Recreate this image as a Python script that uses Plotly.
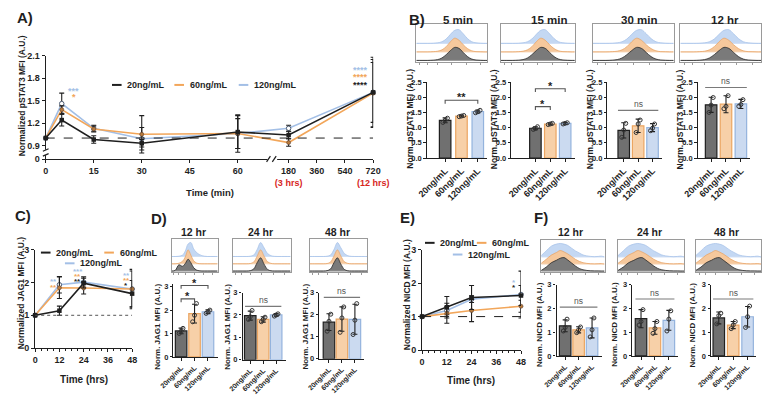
import plotly.graph_objects as go

W, H = 778, 396
FONT = "Liberation Sans, Arial, Helvetica, sans-serif"
INK = "#1f1f1f"
RED = "#d7261e"

conc = ["20ng/mL", "60ng/mL", "120ng/mL"]
line_color = {"20ng/mL": "#1f1f1f", "60ng/mL": "#f2a65a", "120ng/mL": "#a3bfe6"}
bar_fill = {"20ng/mL": "#707070", "60ng/mL": "#f7d0a8", "120ng/mL": "#cbdaf0"}
bar_edge = {"20ng/mL": "#1f1f1f", "60ng/mL": "#eba561", "120ng/mL": "#94b3dd"}
hist_fill = {"20ng/mL": "#7a7a7a", "60ng/mL": "#f6c89c", "120ng/mL": "#c4d8f3"}
hist_edge = {"20ng/mL": "#2a2a2a", "60ng/mL": "#e9a66a", "120ng/mL": "#a9c4ea"}
hist_base = {"20ng/mL": "#9a9a9a", "60ng/mL": "#f6d3b2", "120ng/mL": "#cfdff5"}

# ---------------- Panel A: pSTAT3 time course ----------------
A_time = [0, 5, 15, 30, 60, 180, 720]
A_mean_20 = [1.00, 1.24, 0.98, 0.93, 1.08, 1.04, 1.61]
A_mean_60 = [1.00, 1.38, 1.12, 1.05, 1.06, 0.94, 1.60]
A_mean_120 = [1.00, 1.46, 1.13, 0.99, 1.06, 1.13, 1.61]
A_sd_20 = [0.00, 0.08, 0.05, 0.05, 0.22, 0.05, 0.47]
A_sd_60 = [0.00, 0.05, 0.04, 0.25, 0.20, 0.05, 0.45]
A_sd_120 = [0.00, 0.14, 0.04, 0.15, 0.25, 0.04, 0.40]
A_xticks = [0, 15, 30, 45, 60, 180, 360, 540, 720]
A_xnotes = {180: "(3 hrs)", 720: "(12 hrs)"}
A_yticks = [0.9, 1.2, 1.5, 1.8, 2.1]
A_stars = [(5, "120ng/mL", "***", 1.66), (5, "60ng/mL", "*", 1.57),
           (720, "120ng/mL", "****", 1.94), (720, "60ng/mL", "****", 1.84),
           (720, "20ng/mL", "****", 1.735)]

# ---------------- Panel B: pSTAT3 bars ----------------
B_times = ["5 min", "15 min", "30 min", "12 hr"]
B_mean_5min = [1.24, 1.38, 1.53]
B_mean_15min = [0.98, 1.12, 1.14]
B_mean_30min = [0.91, 1.06, 1.00]
B_mean_12hr = [1.75, 1.77, 1.78]
B_sd_5min = [0.08, 0.03, 0.05]
B_sd_15min = [0.05, 0.03, 0.03]
B_sd_30min = [0.25, 0.22, 0.13]
B_sd_12hr = [0.25, 0.28, 0.15]
B_pts_5min = [[1.17, 1.24, 1.31], [1.36, 1.38, 1.40], [1.49, 1.52, 1.57]]
B_pts_15min = [[0.94, 0.97, 1.03], [1.10, 1.12, 1.14], [1.12, 1.14, 1.16]]
B_pts_30min = [[0.68, 0.92, 1.14], [0.84, 1.12, 1.25], [0.90, 0.98, 1.12]]
B_pts_12hr = [[1.50, 1.74, 1.99], [1.62, 1.70, 2.05], [1.70, 1.76, 1.92]]
B_sig_5min = [(0, 2, 1.90, "**")]
B_sig_15min = [(0, 1, 1.69, "*"), (0, 2, 2.28, "*")]
B_sig_30min = [(0, 2, 1.57, "ns")]
B_sig_12hr = [(0, 2, 2.32, "ns")]

# ---------------- Panel C: JAG1 time course ----------------
C_time = [0, 12, 24, 48]
C_mean_20 = [1.00, 1.14, 1.98, 1.66]
C_mean_60 = [1.00, 1.84, 1.83, 1.80]
C_mean_120 = [1.00, 1.93, 2.01, 1.80]
C_sd_20 = [0.00, 0.14, 0.15, 0.40]
C_sd_60 = [0.00, 0.33, 0.18, 0.55]
C_sd_120 = [0.00, 0.25, 0.16, 0.60]
C_stars = [(12, "120ng/mL", "**", 2.08), (12, "60ng/mL", "**", 1.91),
           (24, "120ng/mL", "***", 2.41), (24, "60ng/mL", "**", 2.25), (24, "20ng/mL", "**", 2.10),
           (48, "120ng/mL", "**", 2.27), (48, "60ng/mL", "**", 2.13), (48, "20ng/mL", "*", 1.98)]

# ---------------- Panel D: JAG1 bars ----------------
D_times = ["12 hr", "24 hr", "48 hr"]
D_mean_12hr = [1.11, 1.85, 1.93]
D_mean_24hr = [1.97, 1.80, 2.00]
D_mean_48hr = [1.66, 1.80, 1.79]
D_sd_12hr = [0.12, 0.40, 0.08]
D_sd_24hr = [0.20, 0.12, 0.06]
D_sd_48hr = [0.38, 0.55, 0.68]
D_pts_12hr = [[1.00, 1.10, 1.22], [1.50, 1.78, 2.28], [1.86, 1.93, 2.00]]
D_pts_24hr = [[1.80, 1.92, 2.20], [1.70, 1.80, 1.90], [1.95, 2.00, 2.05]]
D_pts_48hr = [[1.25, 1.70, 2.02], [1.20, 1.85, 2.35], [1.10, 1.75, 2.50]]
D_sig_12hr = [(0, 1, 2.48, "*"), (0, 2, 3.05, "*")]
D_sig_24hr = [(0, 2, 2.38, "ns")]
D_sig_48hr = [(0, 2, 2.78, "ns")]

# ---------------- Panel E: NICD time course ----------------
E_time = [0, 12, 24, 48]
E_mean_20 = [1.00, 1.28, 1.57, 1.63]
E_mean_60 = [1.00, 1.10, 1.18, 1.31]
E_mean_120 = [1.00, 1.18, 1.52, 1.66]
E_sd_20 = [0.00, 0.32, 0.36, 0.30]
E_sd_60 = [0.00, 0.30, 0.33, 0.18]
E_sd_120 = [0.00, 0.12, 0.10, 0.70]
E_stars = [(48, "120ng/mL", "*", 2.07), (48, "20ng/mL", "*", 1.92)]

# ---------------- Panel F: NICD bars ----------------
F_times = ["12 hr", "24 hr", "48 hr"]
F_mean_12hr = [1.27, 1.10, 1.18]
F_mean_24hr = [1.57, 1.18, 1.50]
F_mean_48hr = [1.60, 1.30, 1.65]
F_sd_12hr = [0.25, 0.13, 0.42]
F_sd_24hr = [0.38, 0.27, 0.42]
F_sd_48hr = [0.25, 0.15, 0.43]
F_pts_12hr = [[1.05, 1.20, 1.55], [0.98, 1.10, 1.22], [0.80, 1.10, 1.60]]
F_pts_24hr = [[1.30, 1.45, 1.95], [0.95, 1.15, 1.45], [1.05, 1.55, 1.90]]
F_pts_48hr = [[1.35, 1.70, 1.80], [1.15, 1.30, 1.45], [1.20, 1.65, 2.10]]
F_sig_12hr = [(0, 2, 2.06, "ns")]
F_sig_24hr = [(0, 2, 2.40, "ns")]
F_sig_48hr = [(0, 2, 2.40, "ns")]

# ---------------- flow histograms (relative counts) ----------------
hist_bins = [0.00, 0.08, 0.16, 0.24, 0.30, 0.36, 0.42, 0.48, 0.54, 0.60, 0.66, 0.72, 0.78, 0.84, 0.90, 0.95, 1.00]
B_hist_20 = [0, 0, 0, 0.02, 0.06, 0.18, 0.42, 0.72, 0.95, 0.88, 0.58, 0.28, 0.10, 0.03, 0.01, 0, 0]
B_hist_60 = [0, 0, 0, 0.02, 0.05, 0.15, 0.38, 0.74, 1.00, 0.85, 0.52, 0.24, 0.08, 0.02, 0.01, 0, 0]
B_hist_120 = [0, 0, 0, 0.01, 0.04, 0.12, 0.32, 0.66, 0.95, 1.00, 0.70, 0.35, 0.12, 0.04, 0.01, 0, 0]
D_hist_12hr_20 = [0, 0.05, 0.45, 0.35, 0.55, 0.85, 0.60, 0.25, 0.08, 0.02, 0, 0, 0, 0, 0, 0, 0]
D_hist_12hr_60 = [0, 0, 0.04, 0.18, 0.50, 1.00, 0.62, 0.22, 0.06, 0.01, 0, 0, 0, 0, 0, 0, 0]
D_hist_12hr_120 = [0, 0, 0.02, 0.10, 0.40, 0.90, 1.00, 0.55, 0.30, 0.15, 0.06, 0.02, 0, 0, 0, 0, 0]
D_hist_late_20 = [0, 0, 0, 0, 0.03, 0.15, 0.60, 0.95, 0.50, 0.12, 0.02, 0, 0, 0, 0, 0, 0]
D_hist_late_60 = [0, 0, 0, 0, 0.02, 0.12, 0.55, 1.00, 0.55, 0.15, 0.03, 0, 0, 0, 0, 0, 0]
D_hist_late_120 = [0, 0, 0, 0, 0.02, 0.10, 0.50, 1.00, 0.62, 0.22, 0.06, 0.01, 0, 0, 0, 0, 0]
F_hist_20 = [0.05, 0.30, 0.62, 0.80, 0.95, 1.00, 0.82, 0.60, 0.38, 0.20, 0.10, 0.05, 0.02, 0.01, 0.01, 0, 0]
F_hist_60 = [0.05, 0.35, 0.66, 0.85, 1.00, 0.90, 0.75, 0.55, 0.35, 0.20, 0.10, 0.05, 0.02, 0.01, 0.02, 0.03, 0]
F_hist_120 = [0.10, 0.45, 0.80, 0.95, 1.00, 0.95, 0.85, 0.65, 0.45, 0.30, 0.15, 0.08, 0.04, 0.02, 0.04, 0.06, 0]

# ======================================================================
fig = go.Figure()
layout = {}
annotations = []
shapes = []
counter = [0]


def px(x):
    return x / W


def py(y):
    return 1 - y / H


def add_axes(x0, x1, ytop, ybot, xa, ya):
    counter[0] += 1
    n = counter[0]
    s = "" if n == 1 else str(n)
    xa = dict(xa)
    ya = dict(ya)
    xa.update(domain=[px(x0), px(x1)], anchor="y" + s)
    ya.update(domain=[py(ybot), py(ytop)], anchor="x" + s)
    layout["xaxis" + s] = xa
    layout["yaxis" + s] = ya
    return "x" + s, "y" + s


def base_axis(size=9, **kw):
    d = dict(showline=True, linecolor=INK, linewidth=1.2, ticks="outside", ticklen=3,
             tickwidth=1.1, tickcolor=INK, showgrid=False, zeroline=False, fixedrange=True,
             tickfont=dict(family=FONT, size=size, color=INK, weight="bold"))
    d.update(kw)
    return d


def add_text(x, y, s, size=9, color=INK, bold=True, angle=0, xanchor="center",
             yanchor="middle", xref="paper", yref="paper", xshift=0, yshift=0):
    annotations.append(dict(x=x, y=y, xref=xref, yref=yref, text=s, showarrow=False,
                            textangle=angle, xanchor=xanchor, yanchor=yanchor,
                            xshift=xshift, yshift=yshift,
                            font=dict(family=FONT, size=size, color=color,
                                      weight="bold" if bold else "normal")))


def legend_entry(xs, y, c, size=9):
    shapes.append(dict(type="line", xref="paper", yref="paper", x0=px(xs), x1=px(xs + 10),
                       y0=py(y), y1=py(y), line=dict(color=line_color[c], width=2)))
    add_text(px(xs + 14), py(y), c, size=size, xanchor="left")


def pixel_line(x0, y0, x1, y1, color=INK, width=1.2):
    shapes.append(dict(type="line", xref="paper", yref="paper", x0=px(x0), x1=px(x1),
                       y0=py(y0), y1=py(y1), line=dict(color=color, width=width)))


markers = {
    "20ng/mL": dict(symbol="square", size=4.5, color=INK),
    "60ng/mL": dict(symbol="circle", size=4, color="#b77a3d", line=dict(color="#5a4030", width=0.6)),
    "120ng/mL": dict(symbol="circle", size=4.5, color="white", line=dict(color="#4d5d74", width=1)),
}


def line_traces(xr, yr, times, means, sds, xmap=None):
    for c in reversed(conc):
        xs = [xmap(t) for t in times] if xmap else list(times)
        fig.add_trace(go.Scatter(
            x=xs, y=means[c], mode="lines+markers", cliponaxis=False,
            line=dict(color=line_color[c], width=1.6), marker=markers[c],
            error_y=dict(type="data", array=sds[c], color=INK, thickness=1.1, width=2.5),
            xaxis=xr, yaxis=yr, showlegend=False, name=c))


# ---------------------------- Panel A ---------------------------------
A_EARLY_MAX = 60
A_LATE_START = 75.9
A_LATE_SCALE = 0.0489
A_YZERO = 0.72


def a_map(t):
    return t if t <= A_EARLY_MAX else A_LATE_START + (t - 180) * A_LATE_SCALE


A_ticktext = []
for t in A_xticks:
    if t in A_xnotes:
        A_ticktext.append(f"{t}<br><span style='color:{RED}'>{A_xnotes[t]}</span>")
    else:
        A_ticktext.append(str(t))

xA, yA = add_axes(32, 373, 52, 158,
                  base_axis(9, range=[0, a_map(720)], tickvals=[a_map(t) for t in A_xticks],
                            ticktext=A_ticktext),
                  base_axis(9, range=[A_YZERO, 2.1], tickvals=[A_YZERO] + A_yticks,
                            ticktext=["0"] + [f"{v:.1f}" for v in A_yticks]))
shapes.append(dict(type="line", xref=xA, yref=yA, x0=0, x1=a_map(720), y0=1, y1=1,
                   line=dict(color=INK, width=1, dash="dash")))
line_traces(xA, yA, A_time,
            {"20ng/mL": A_mean_20, "60ng/mL": A_mean_60, "120ng/mL": A_mean_120},
            {"20ng/mL": A_sd_20, "60ng/mL": A_sd_60, "120ng/mL": A_sd_120}, a_map)
for t, c, s, yv in A_stars:
    add_text(a_map(t), yv, s, size=9, color=line_color[c], xref=xA, yref=yA,
             xshift=12 if t < A_EARLY_MAX else -13, yshift=-2)
for xs, c in zip([101, 166, 233], conc):
    legend_entry(xs, 82, c, 9)
# axis breaks
pixel_line(32, 148.5, 32, 154, color="white", width=3)
pixel_line(29, 150, 35, 147.5)
pixel_line(29, 155, 35, 152.5)
pixel_line(263, 158, 273, 158, color="white", width=3)
pixel_line(262, 161, 266, 155)
pixel_line(268, 161, 272, 155)
add_text(px(7), py(93), "Normalized pSTAT3 MFI (A.U.)", size=8.5, angle=-90)
add_text(px(203), py(192), "Time (min)", size=9.5)

# ------------------------- bar panel helper ---------------------------


def bar_panel(title, title_x, box, hist_top, hist_bot, title_y, profiles, hist_scale, hist_offsets,
              axis_x, right_x, centers, y_top_tick_px, y0_px, top_tick, range_max,
              yticks, ytick_fmt, means, sds, pts, sigs, ylabel, ylab_x, ylab_y,
              xtick_size, ytick_size, ylab_size, title_size):
    # histogram box
    xh, yh = add_axes(box[0], box[1], hist_top, hist_bot,
                      dict(range=[0, 1], showline=True, mirror=True, linecolor="#9a9a9a",
                           linewidth=1, ticks="outside", ticklen=2, tickcolor="#9a9a9a",
                           tickvals=[0.05, 0.15, 0.3, 0.5, 0.7, 0.9], showticklabels=False,
                           showgrid=False, zeroline=False, fixedrange=True),
                      dict(range=[0, 1], showline=True, mirror=True, linecolor="#9a9a9a",
                           linewidth=1, ticks="", showticklabels=False, showgrid=False,
                           zeroline=False, fixedrange=True))
    for c in reversed(conc):
        off = hist_offsets[c]
        fig.add_trace(go.Scatter(x=[0, 1], y=[off, off], mode="lines",
                                 line=dict(color=hist_base[c], width=1),
                                 xaxis=xh, yaxis=yh, showlegend=False, hoverinfo="skip"))
        fig.add_trace(go.Scatter(x=hist_bins, y=[off + hist_scale * v for v in profiles[c]],
                                 mode="lines", fill="tonexty", fillcolor=hist_fill[c],
                                 line=dict(color=hist_edge[c], width=0.8, shape="spline"),
                                 xaxis=xh, yaxis=yh, showlegend=False, hoverinfo="skip"))
    add_text(px(title_x), py(title_y), title, size=title_size)

    # bar chart
    spacing = (centers[2] - centers[0]) / 2
    xrange = [-(centers[0] - axis_x) / spacing, 2 + (right_x - centers[2]) / spacing]
    unit = (y0_px - y_top_tick_px) / top_tick
    ytop_px = y0_px - range_max * unit
    xb, yb = add_axes(axis_x, right_x, ytop_px, y0_px,
                      base_axis(xtick_size, range=xrange, tickvals=[0, 1, 2], ticktext=conc,
                                tickangle=-45, ticklen=3),
                      base_axis(ytick_size, range=[0, range_max], tickvals=yticks, ticklen=2.5,
                                ticktext=[ytick_fmt.format(v) for v in yticks]))
    fig.add_trace(go.Bar(x=[0, 1, 2], y=means, width=12 / spacing,
                         marker=dict(color=[bar_fill[c] for c in conc],
                                     line=dict(color=[bar_edge[c] for c in conc], width=1.2)),
                         error_y=dict(type="data", array=sds, color=INK, thickness=1.1, width=2.5),
                         xaxis=xb, yaxis=yb, showlegend=False))
    jitter = [-0.14, 0.0, 0.14]
    px_list, py_list = [], []
    for i, vals in enumerate(pts):
        for j, v in enumerate(vals):
            px_list.append(i + jitter[j])
            py_list.append(v)
    fig.add_trace(go.Scatter(x=px_list, y=py_list, mode="markers", cliponaxis=False,
                             marker=dict(symbol="circle-open", size=4, color="#333333",
                                         line=dict(width=1)),
                             xaxis=xb, yaxis=yb, showlegend=False))
    drop = 0.045 * range_max
    for i, j, lvl, lab in sigs:
        if lab == "ns":
            shapes.append(dict(type="line", xref=xb, yref=yb, x0=i - 0.4, x1=j + 0.4,
                               y0=lvl, y1=lvl, line=dict(color="#7a7a7a", width=1.2)))
            add_text((i + j) / 2, lvl, "ns", size=8.5, color="#555555", bold=False,
                     xref=xb, yref=yb, yanchor="bottom", yshift=-1)
        else:
            shapes.append(dict(type="path", xref=xb, yref=yb,
                               path=f"M {i},{lvl - drop} L {i},{lvl} L {j},{lvl} L {j},{lvl - drop}",
                               line=dict(color="#555555", width=1.1)))
            add_text((i + j) / 2, lvl, lab, size=11, xref=xb, yref=yb, yanchor="bottom",
                     yshift=-5)
    add_text(px(ylab_x), py(ylab_y), ylabel, size=ylab_size, angle=-90)


# ---------------------------- Panel B ---------------------------------
B_geom = [dict(tx=461, box=(418, 492), axis=429, right=492, centers=(448, 465, 482), ylab=411),
          dict(tx=556, box=(506, 583), axis=517, right=583, centers=(542, 557, 573), ylab=499),
          dict(tx=650, box=(602, 686), axis=617, right=674, centers=(634, 649, 664), ylab=599),
          dict(tx=739, box=(693, 777), axis=711, right=766, centers=(725, 740, 756), ylab=693)]
B_means = [B_mean_5min, B_mean_15min, B_mean_30min, B_mean_12hr]
B_sds = [B_sd_5min, B_sd_15min, B_sd_30min, B_sd_12hr]
B_pts = [B_pts_5min, B_pts_15min, B_pts_30min, B_pts_12hr]
B_sigs = [B_sig_5min, B_sig_15min, B_sig_30min, B_sig_12hr]
B_profiles = {"20ng/mL": B_hist_20, "60ng/mL": B_hist_60, "120ng/mL": B_hist_120}
for k, t in enumerate(B_times):
    g = B_geom[k]
    bar_panel(t, g["tx"], g["box"], 20, 58, 15, B_profiles, 0.37,
              {"20ng/mL": 0.03, "60ng/mL": 0.26, "120ng/mL": 0.49},
              g["axis"], g["right"], g["centers"], 79, 157, 2.5, 2.5,
              [0, 0.5, 1.0, 1.5, 2.0, 2.5], "{:.1f}", B_means[k], B_sds[k], B_pts[k], B_sigs[k],
              "Norm. pSTAT3 MFI (A.U.)", g["ylab"], 117, 9, 7.5, 8.5, 11.5)

# ---------------------------- Panel C ---------------------------------
xC, yC = add_axes(21, 122, 251, 352,
                  base_axis(9, range=[0, 48], tickvals=[0, 12, 24, 36, 48],
                            minor=dict(dtick=3, ticklen=1.5, tickcolor=INK, ticks="outside")),
                  base_axis(9, range=[0, 3], tickvals=[0, 1, 2, 3]))
shapes.append(dict(type="line", xref=xC, yref=yC, x0=0, x1=48, y0=1, y1=1,
                   line=dict(color="#555555", width=1, dash="dot")))
line_traces(xC, yC, C_time,
            {"20ng/mL": C_mean_20, "60ng/mL": C_mean_60, "120ng/mL": C_mean_120},
            {"20ng/mL": C_sd_20, "60ng/mL": C_sd_60, "120ng/mL": C_sd_120})
for t, c, s, yv in C_stars:
    add_text(t, yv, s, size=8, color=line_color[c], xref=xC, yref=yC, xshift=-6, yshift=-2)
legend_entry(27, 254, "20ng/mL")
legend_entry(93, 254, "60ng/mL")
legend_entry(52, 265, "120ng/mL")
add_text(px(6), py(295), "Normalized JAG1 MFI (A.U.)", size=8.5, angle=-90)
add_text(px(72), py(384), "Time (hrs)", size=10)

# ---------------------------- Panel D ---------------------------------
D_geom = [dict(box=(163, 211), axis=165, right=211, centers=(173, 187, 201), top=289, zero=361,
               rmax=3.12, ylab=149),
          dict(box=(227, 287), axis=237, right=282, centers=(245, 258, 272), top=295, zero=364,
               rmax=3.0, ylab=222),
          dict(box=(307, 367), axis=317, right=364, centers=(327, 340, 354), top=295, zero=363,
               rmax=3.0, ylab=303)]
D_means = [D_mean_12hr, D_mean_24hr, D_mean_48hr]
D_sds = [D_sd_12hr, D_sd_24hr, D_sd_48hr]
D_pts = [D_pts_12hr, D_pts_24hr, D_pts_48hr]
D_sigs = [D_sig_12hr, D_sig_24hr, D_sig_48hr]
D_profiles = [{"20ng/mL": D_hist_12hr_20, "60ng/mL": D_hist_12hr_60, "120ng/mL": D_hist_12hr_120},
              {"20ng/mL": D_hist_late_20, "60ng/mL": D_hist_late_60, "120ng/mL": D_hist_late_120},
              {"20ng/mL": D_hist_late_20, "60ng/mL": D_hist_late_60, "120ng/mL": D_hist_late_120}]
for k, t in enumerate(D_times):
    g = D_geom[k]
    bar_panel(t, (g["box"][0] + g["box"][1]) / 2 - 1, g["box"], 240, 274, 233, D_profiles[k], 0.42,
              {"20ng/mL": 0.03, "60ng/mL": 0.25, "120ng/mL": 0.47},
              g["axis"], g["right"], g["centers"], g["top"], g["zero"], 3, g["rmax"],
              [0, 1, 2, 3], "{:d}", D_means[k], D_sds[k], D_pts[k], D_sigs[k],
              "Norm. JAG1 MFI (A.U.)", g["ylab"], 330, 7, 7.5, 8, 10.5)

# ---------------------------- Panel E ---------------------------------
xE, yE = add_axes(424, 527, 251, 354,
                  base_axis(9, range=[0, 48], tickvals=[0, 12, 24, 36, 48],
                            minor=dict(dtick=3, ticklen=1.5, tickcolor=INK, ticks="outside")),
                  base_axis(9, range=[0, 3], tickvals=[0, 1, 2, 3]))
shapes.append(dict(type="line", xref=xE, yref=yE, x0=0, x1=48, y0=1, y1=1,
                   line=dict(color=INK, width=1, dash="dash")))
line_traces(xE, yE, E_time,
            {"20ng/mL": E_mean_20, "60ng/mL": E_mean_60, "120ng/mL": E_mean_120},
            {"20ng/mL": E_sd_20, "60ng/mL": E_sd_60, "120ng/mL": E_sd_120})
for t, c, s, yv in E_stars:
    add_text(t, yv, s, size=8, color=line_color[c], xref=xE, yref=yE, xshift=-7, yshift=-2)
legend_entry(427, 244, "20ng/mL")
legend_entry(481, 244, "60ng/mL")
legend_entry(456, 256, "120ng/mL")
add_text(px(408), py(297), "Normalized NICD MFI (A.U.)", size=8.5, angle=-90)
add_text(px(475), py(385), "Time (hrs)", size=10)

# ---------------------------- Panel F ---------------------------------
F_geom = [dict(box=(548, 614), axis=564, right=611, centers=(573, 587, 601), ylab=546),
          dict(box=(628, 697), axis=643, right=690, centers=(652, 666, 681), ylab=625),
          dict(box=(709, 777), axis=725, right=772, centers=(733, 748, 763), ylab=706)]
F_means = [F_mean_12hr, F_mean_24hr, F_mean_48hr]
F_sds = [F_sd_12hr, F_sd_24hr, F_sd_48hr]
F_pts = [F_pts_12hr, F_pts_24hr, F_pts_48hr]
F_sigs = [F_sig_12hr, F_sig_24hr, F_sig_48hr]
F_profiles = {"20ng/mL": F_hist_20, "60ng/mL": F_hist_60, "120ng/mL": F_hist_120}
for k, t in enumerate(F_times):
    g = F_geom[k]
    bar_panel(t, (g["box"][0] + g["box"][1]) / 2 - 2, g["box"], 241, 274, 233, F_profiles, 0.42,
              {"20ng/mL": 0.03, "60ng/mL": 0.25, "120ng/mL": 0.47},
              g["axis"], g["right"], g["centers"], 287, 360, 3, 3.0,
              [0, 1, 2, 3], "{:d}", F_means[k], F_sds[k], F_pts[k], F_sigs[k],
              "Norm. NICD MFI (A.U.)", g["ylab"], 328, 7, 7.5, 8, 10.5)

# ---------------------------- panel letters ----------------------------
for lab, x, y in [("A)", 10, 13), ("B)", 419, 15), ("C)", 8, 216),
                  ("D)", 150, 219), ("E)", 409, 218), ("F)", 548, 218)]:
    add_text(px(x), py(y), lab, size=15)

layout.update(width=W, height=H, margin=dict(l=0, r=0, t=0, b=0),
              paper_bgcolor="white", plot_bgcolor="white", showlegend=False,
              annotations=annotations, shapes=shapes, font=dict(family=FONT, color=INK))
fig.update_layout(**layout)
fig.write_html("out.html")
